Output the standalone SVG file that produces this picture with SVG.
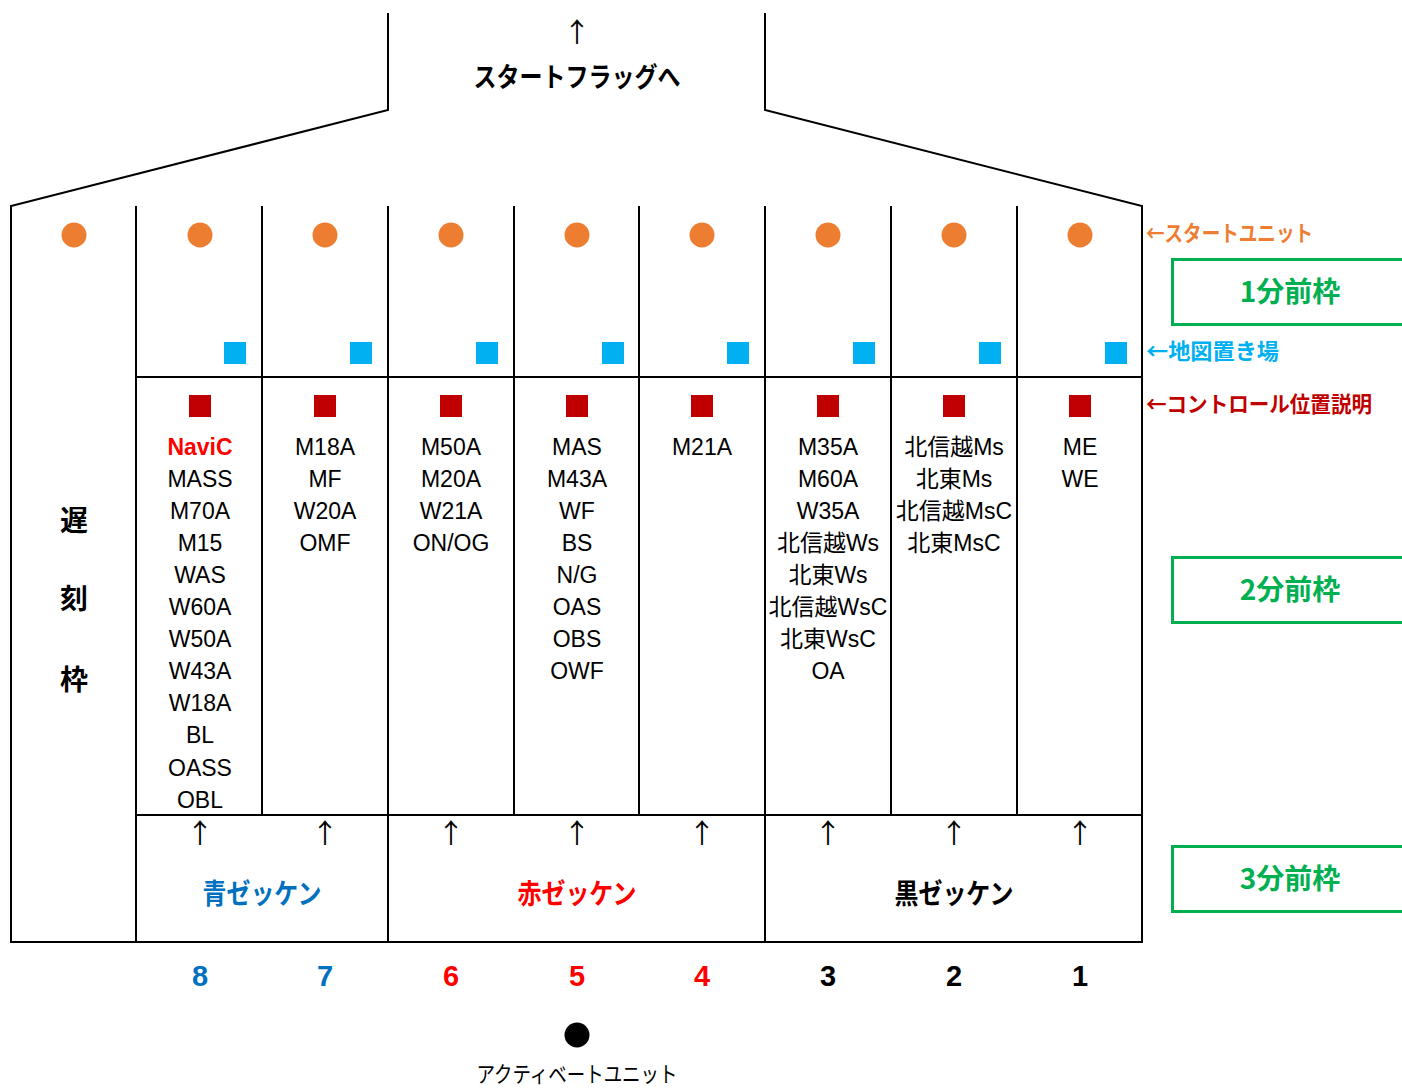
<svg xmlns="http://www.w3.org/2000/svg" width="1402" height="1088" viewBox="0 0 1402 1088">
<style>
.ln{stroke:#000;stroke-width:2;fill:none}
.t{font-family:"Liberation Sans","Noto Sans CJK JP",sans-serif;font-size:23px;text-anchor:middle;fill:#000}
.b{font-family:"Noto Sans CJK JP","Liberation Sans",sans-serif;font-weight:bold;text-anchor:middle}
.ar{font-family:"Noto Sans CJK JP",sans-serif;font-size:27px;text-anchor:middle;fill:#000}
.lab{font-family:"Noto Sans CJK JP",sans-serif;font-weight:bold;font-size:22px}
.num{font-family:"Liberation Sans",sans-serif;font-weight:bold;font-size:29px;text-anchor:middle}
.su{fill:#ED7D31}
.mp{fill:#00B0F0}
.cd{fill:#C00000}
.gb{fill:#fff;stroke:#00B050;stroke-width:3}
.gt{fill:#00B050;font-size:28px}
</style>
<rect width="1402" height="1088" fill="#fff"/>
<g id="frame">
<polyline class="ln" points="388,13 388,110 11,206 11,943"/>
<polyline class="ln" points="765,13 765,110 1142,206 1142,943"/>
<line class="ln" x1="136" y1="206" x2="136" y2="943"/>
<line class="ln" x1="262" y1="206" x2="262" y2="815"/>
<line class="ln" x1="388" y1="206" x2="388" y2="943"/>
<line class="ln" x1="514" y1="206" x2="514" y2="815"/>
<line class="ln" x1="639" y1="206" x2="639" y2="815"/>
<line class="ln" x1="765" y1="206" x2="765" y2="943"/>
<line class="ln" x1="891" y1="206" x2="891" y2="815"/>
<line class="ln" x1="1017" y1="206" x2="1017" y2="815"/>
<line class="ln" x1="136" y1="377" x2="1142" y2="377"/>
<line class="ln" x1="136" y1="815" x2="1142" y2="815"/>
<line class="ln" x1="11" y1="942" x2="1142" y2="942" stroke-width="2.5"/>
</g>
<g id="start-flag">
<text class="ar" x="577" y="42">↑</text>
<text class="b" x="577" y="87" font-size="27" textLength="207" lengthAdjust="spacingAndGlyphs">スタートフラッグへ</text>
</g>
<g id="start-units">
<circle class="su" cx="74" cy="235" r="12.5"/>
<circle class="su" cx="200" cy="235" r="12.5"/>
<circle class="su" cx="325" cy="235" r="12.5"/>
<circle class="su" cx="451" cy="235" r="12.5"/>
<circle class="su" cx="577" cy="235" r="12.5"/>
<circle class="su" cx="702" cy="235" r="12.5"/>
<circle class="su" cx="828" cy="235" r="12.5"/>
<circle class="su" cx="954" cy="235" r="12.5"/>
<circle class="su" cx="1080" cy="235" r="12.5"/>
</g>
<g id="map-places">
<rect class="mp" x="224" y="342" width="22" height="22"/>
<rect class="mp" x="350" y="342" width="22" height="22"/>
<rect class="mp" x="476" y="342" width="22" height="22"/>
<rect class="mp" x="602" y="342" width="22" height="22"/>
<rect class="mp" x="727" y="342" width="22" height="22"/>
<rect class="mp" x="853" y="342" width="22" height="22"/>
<rect class="mp" x="979" y="342" width="22" height="22"/>
<rect class="mp" x="1105" y="342" width="22" height="22"/>
</g>
<g id="control-desc">
<rect class="cd" x="189" y="395" width="22" height="22"/>
<rect class="cd" x="314" y="395" width="22" height="22"/>
<rect class="cd" x="440" y="395" width="22" height="22"/>
<rect class="cd" x="566" y="395" width="22" height="22"/>
<rect class="cd" x="691" y="395" width="22" height="22"/>
<rect class="cd" x="817" y="395" width="22" height="22"/>
<rect class="cd" x="943" y="395" width="22" height="22"/>
<rect class="cd" x="1069" y="395" width="22" height="22"/>
</g>
<g id="late-frame">
<text class="b" x="74" y="531" font-size="28">遅</text>
<text class="b" x="74" y="609" font-size="28">刻</text>
<text class="b" x="74" y="690" font-size="28">枠</text>
</g>
<g id="lane-8">
<text class="t" x="200" y="455" font-weight="bold" style="fill:#FF0000">NaviC</text>
<text class="t" x="200" y="487">MASS</text>
<text class="t" x="200" y="519">M70A</text>
<text class="t" x="200" y="551">M15</text>
<text class="t" x="200" y="583">WAS</text>
<text class="t" x="200" y="615">W60A</text>
<text class="t" x="200" y="647">W50A</text>
<text class="t" x="200" y="679">W43A</text>
<text class="t" x="200" y="711">W18A</text>
<text class="t" x="200" y="743">BL</text>
<text class="t" x="200" y="776">OASS</text>
<text class="t" x="200" y="808">OBL</text>
</g>
<g id="lane-7">
<text class="t" x="325" y="455">M18A</text>
<text class="t" x="325" y="487">MF</text>
<text class="t" x="325" y="519">W20A</text>
<text class="t" x="325" y="551">OMF</text>
</g>
<g id="lane-6">
<text class="t" x="451" y="455">M50A</text>
<text class="t" x="451" y="487">M20A</text>
<text class="t" x="451" y="519">W21A</text>
<text class="t" x="451" y="551">ON/OG</text>
</g>
<g id="lane-5">
<text class="t" x="577" y="455">MAS</text>
<text class="t" x="577" y="487">M43A</text>
<text class="t" x="577" y="519">WF</text>
<text class="t" x="577" y="551">BS</text>
<text class="t" x="577" y="583">N/G</text>
<text class="t" x="577" y="615">OAS</text>
<text class="t" x="577" y="647">OBS</text>
<text class="t" x="577" y="679">OWF</text>
</g>
<g id="lane-4">
<text class="t" x="702" y="455">M21A</text>
</g>
<g id="lane-3">
<text class="t" x="828" y="455">M35A</text>
<text class="t" x="828" y="487">M60A</text>
<text class="t" x="828" y="519">W35A</text>
<text class="t" x="828" y="551">北信越Ws</text>
<text class="t" x="828" y="583">北東Ws</text>
<text class="t" x="828" y="615">北信越WsC</text>
<text class="t" x="828" y="647">北東WsC</text>
<text class="t" x="828" y="679">OA</text>
</g>
<g id="lane-2">
<text class="t" x="954" y="455">北信越Ms</text>
<text class="t" x="954" y="487">北東Ms</text>
<text class="t" x="954" y="519">北信越MsC</text>
<text class="t" x="954" y="551">北東MsC</text>
</g>
<g id="lane-1">
<text class="t" x="1080" y="455">ME</text>
<text class="t" x="1080" y="487">WE</text>
</g>
<g id="bib-arrows">
<text class="ar" x="200" y="843">↑</text>
<text class="ar" x="325" y="843">↑</text>
<text class="ar" x="451" y="843">↑</text>
<text class="ar" x="577" y="843">↑</text>
<text class="ar" x="702" y="843">↑</text>
<text class="ar" x="828" y="843">↑</text>
<text class="ar" x="954" y="843">↑</text>
<text class="ar" x="1080" y="843">↑</text>
</g>
<g id="bibs">
<text class="b" x="262" y="904" font-size="28" fill="#0070C0" textLength="119" lengthAdjust="spacingAndGlyphs">青ゼッケン</text>
<text class="b" x="577" y="904" font-size="28" fill="#FF0000" textLength="119" lengthAdjust="spacingAndGlyphs">赤ゼッケン</text>
<text class="b" x="954" y="904" font-size="28" fill="#000" textLength="119" lengthAdjust="spacingAndGlyphs">黒ゼッケン</text>
</g>
<g id="lane-numbers">
<text class="num" x="200" y="986" fill="#0070C0">8</text>
<text class="num" x="325" y="986" fill="#0070C0">7</text>
<text class="num" x="451" y="986" fill="#FF0000">6</text>
<text class="num" x="577" y="986" fill="#FF0000">5</text>
<text class="num" x="702" y="986" fill="#FF0000">4</text>
<text class="num" x="828" y="986" fill="#000">3</text>
<text class="num" x="954" y="986" fill="#000">2</text>
<text class="num" x="1080" y="986" fill="#000">1</text>
</g>
<g id="activate-unit">
<circle cx="577" cy="1035" r="12.5" fill="#000"/>
<text x="577" y="1082" style="font-family:'Noto Sans CJK JP',sans-serif;font-size:22px;text-anchor:middle;fill:#000" textLength="201" lengthAdjust="spacingAndGlyphs">アクティベートユニット</text>
</g>
<g id="legend">
<text class="lab" x="1146" y="241" fill="#ED7D31" textLength="167" lengthAdjust="spacingAndGlyphs">←スタートユニット</text>
<text class="lab" x="1146" y="359" fill="#00B0F0" textLength="133" lengthAdjust="spacingAndGlyphs">←地図置き場</text>
<text class="lab" x="1146" y="412" fill="#C00000" textLength="226" lengthAdjust="spacingAndGlyphs">←コントロール位置説明</text>
</g>
<g id="box-1min">
<rect class="gb" x="1172.5" y="259.5" width="240" height="65"/>
<text class="b gt" x="1290" y="302">1分前枠</text>
</g>
<g id="box-2min">
<rect class="gb" x="1172.5" y="557.5" width="240" height="65"/>
<text class="b gt" x="1290" y="600">2分前枠</text>
</g>
<g id="box-3min">
<rect class="gb" x="1172.5" y="846.5" width="240" height="65"/>
<text class="b gt" x="1290" y="889">3分前枠</text>
</g>
</svg>
